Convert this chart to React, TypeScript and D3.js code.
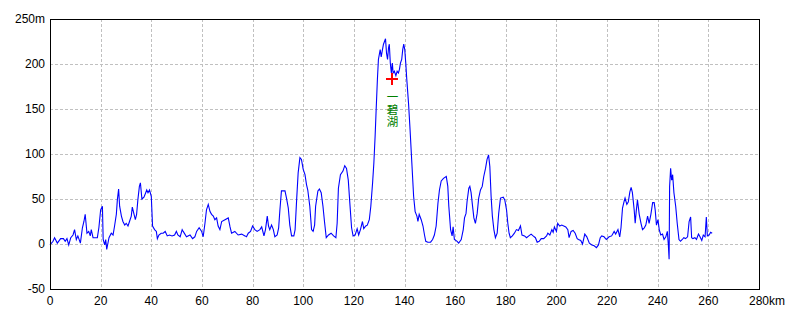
import React from "react";
import * as d3 from "d3";

const distanceKm = [
  0, 1.2, 1.8, 2.9, 4.2, 5.3, 6, 6.7, 7.4, 8.2, 9.1, 9.7, 10.4, 11, 12, 12.8, 13.4, 13.9, 14.6, 15.3,
  15.9, 16.3, 17, 17.6, 18.7, 19.3, 20, 20.7, 21, 21.6, 22, 22.4, 23.3, 24.2, 24.9, 25.5, 26.2, 26.6, 27.1, 27.5,
  28.2, 28.8, 29.5, 30.1, 30.8, 31.4, 32.1, 32.5, 33.2, 33.7, 34.2, 34.7, 35.3, 35.7, 36.3, 37.1, 37.8, 38.2, 38.7, 39.3,
  40, 40.5, 41.3, 42, 42.4, 43, 43.9, 44.7, 45.5, 46.3, 47.2, 48.2, 49.2, 49.9, 50.5, 51.4, 52.2, 52.6, 53.9, 55.3,
  56.3, 57.2, 57.9, 58.9, 59.9, 60.5, 61.2, 61.8, 62.5, 63.2, 63.8, 64.5, 65.1, 65.8, 66.4, 67.1, 67.8, 69.1, 70.4, 71.1,
  71.7, 73, 74.3, 75.7, 77, 77.6, 78.3, 79.2, 80, 80.9, 81.8, 82.9, 83.6, 84.5, 85.1, 85.8, 86.3, 86.8, 87.5, 88.2,
  88.8, 89.7, 90.3, 90.8, 91.4, 92.8, 93.4, 94.1, 94.7, 95.4, 96.3, 96.8, 97.4, 98, 98.7, 99.3, 100, 100.7, 101.3, 101.8,
  102.6, 103.3, 103.9, 104.5, 104.9, 105.8, 106.4, 107.1, 107.8, 108.4, 109.1, 110, 111, 112, 112.9, 113.4, 113.9, 114.7, 115.7, 116.4,
  117.1, 117.8, 118.4, 119.1, 119.7, 120.5, 121.3, 121.9, 122.6, 123.4, 123.9, 124.7, 125.3, 126.1, 126.7, 127.4, 127.9, 128.4, 128.8, 129.3,
  129.7, 130.4, 130.8, 131.3, 131.7, 132.1, 132.5, 132.9, 133.3, 133.7, 134, 134.4, 134.8, 135.2, 135.5, 136, 136.6, 137.1, 137.6, 138,
  138.4, 138.9, 139.3, 139.7, 140.1, 140.5, 140.9, 141.6, 142.2, 142.9, 143.6, 144.2, 144.9, 145.3, 145.8, 146.6, 147.3, 147.9, 148.4, 149.2,
  150.3, 151.1, 151.8, 152.5, 153.2, 153.8, 154.5, 155.4, 156.5, 157.1, 157.5, 158.2, 158.8, 159.2, 159.7, 160.8, 161.4, 162.4, 163.2, 163.7,
  164.3, 164.7, 165.4, 165.8, 166.3, 166.8, 167.4, 168, 168.7, 169.3, 170, 170.7, 171.3, 172, 172.6, 173.2, 173.7, 174.2, 174.7, 175.3,
  175.9, 176.6, 177.2, 177.9, 179, 179.6, 180.3, 180.8, 181.3, 181.8, 182.6, 183.4, 184.2, 185, 185.8, 186.4, 187.4, 188.2, 189.1, 190,
  190.8, 191.7, 192.4, 193.2, 194, 195, 196.1, 196.6, 197.4, 198.2, 198.7, 199.2, 200, 200.5, 201.3, 202.1, 202.9, 203.7, 204.5, 205,
  205.8, 206.6, 207.4, 208.2, 208.7, 209.6, 210.3, 211.2, 212, 213, 214, 214.9, 215.8, 216.6, 217.3, 217.9, 218.8, 219.7, 220.8, 221.8,
  222.8, 223.4, 224.3, 225, 225.5, 226.1, 226.7, 227.1, 227.8, 228.4, 229, 229.5, 230, 230.7, 231.1, 231.5, 232, 232.7, 233.4, 234,
  234.7, 235.3, 236, 236.6, 237.3, 238, 238.6, 239, 239.5, 240.1, 240.6, 241.2, 241.9, 242.5, 243.2, 243.8, 244.2, 244.5, 244.7, 245.1,
  245.5, 245.9, 246.4, 247.1, 247.7, 248.4, 249, 249.7, 250.3, 251, 251.8, 252.4, 253, 253.4, 253.9, 254.7, 255.3, 256.1, 256.7, 257.4,
  258, 258.7, 259.2, 259.6, 260.3, 260.9, 261.5,
];

const elevationM = [
  -1, 3, 7, 1, 6, 6, 3, 6, -1, 7, 10, 16, 5, 9, 1, 18, 25, 33, 12, 14,
  9, 16, 7, 7, 7, 18, 38, 42, 5, -1, 5, -6, 7, 12, 10, 20, 33, 49, 61, 42,
  31, 25, 21, 23, 20, 25, 31, 41, 33, 27, 33, 49, 64, 68, 50, 52, 57, 60, 57, 60,
  53, 20, 16, 14, 6, 10, 12, 12, 14, 9, 10, 9, 10, 14, 10, 8, 16, 14, 8, 10,
  6, 8, 14, 18, 14, 8, 23, 38, 44, 36, 33, 31, 27, 29, 20, 16, 25, 27, 29, 19,
  12, 14, 10, 11, 9, 8, 12, 14, 20, 16, 14, 16, 19, 9, 16, 31, 20, 16, 21, 16,
  8, 10, 18, 38, 59, 59, 51, 40, 21, 9, 9, 16, 49, 79, 96, 94, 83, 77, 66, 60,
  42, 16, 14, 21, 42, 59, 61, 57, 42, 25, 7, 10, 12, 9, 7, 23, 62, 77, 81, 87,
  84, 71, 46, 18, 9, 10, 17, 10, 16, 25, 17, 20, 21, 27, 42, 68, 90, 120, 149, 183,
  205, 216, 208, 216, 222, 225, 228, 212, 205, 218, 222, 201, 190, 201, 190, 192, 187, 192, 190, 194,
  201, 205, 216, 222, 216, 201, 183, 156, 127, 90, 53, 36, 31, 25, 33, 27, 20, 10, 3, 2,
  2, 5, 10, 20, 45, 60, 70, 73, 75, 64, 42, 16, 9, 19, 5, 3, 1, 5, 16, 29,
  34, 47, 62, 64, 57, 44, 29, 23, 34, 51, 60, 64, 75, 84, 94, 99, 86, 53, 31, 16,
  7, 12, 34, 51, 52, 49, 38, 23, 12, 7, 9, 12, 16, 15, 20, 10, 9, 7, 9, 11,
  9, 7, 2, 3, 6, 6, 9, 12, 10, 16, 13, 19, 14, 23, 20, 21, 20, 19, 16, 7,
  14, 15, 12, 6, 5, 4, 0, 11, 8, 1, -1, -2, -4, -1, 7, 9, 8, 5, 8, 9,
  14, 11, 16, 8, 18, 40, 47, 51, 44, 47, 58, 63, 57, 38, 23, 36, 49, 33, 23, 16,
  18, 21, 31, 23, 33, 46, 46, 38, 21, 27, 16, 10, 11, 5, 8, 14, -1, -17, 64, 84,
  71, 77, 57, 42, 23, 5, 3, 5, 7, 6, 8, 25, 30, 7, 6, 7, 5, 11, 8, 4,
  10, 8, 30, 9, 10, 13, 12,
];

const xTicks = [0, 20, 40, 60, 80, 100, 120, 140, 160, 180, 200, 220, 240, 260, 280];
const yTicks = [-50, 0, 50, 100, 150, 200, 250];

const landmarkKm = [134.8];
const landmarkM = [183];
const landmarkLabels = ["一碧湖"];

const W = 800;
const H = 320;
const LEFT = 50;
const RIGHT = 759;
const TOP = 19;
const BOTTOM = 289;
const FONT = "'Liberation Sans', Arial, sans-serif";

export default function App() {
  const x = d3.scaleLinear().domain([0, 280]).range([LEFT, RIGHT]);
  const y = d3.scaleLinear().domain([-50, 250]).range([BOTTOM, TOP]);
  const pts: [number, number][] = distanceKm.map((d, i) => [d, elevationM[i]]);
  const line = d3
    .line<[number, number]>()
    .x((d) => x(d[0]))
    .y((d) => y(d[1]));

  return (
    <svg
      width={W}
      height={H}
      style={{ position: "absolute", left: 0, top: 0, background: "#fff" }}
      fontFamily={FONT}
    >
      <rect x={0} y={0} width={W} height={H} fill="#fff" />
      {/* grid */}
      <g stroke="#c0c0c0" strokeDasharray="3,2" shapeRendering="crispEdges" strokeWidth={1}>
        {xTicks
          .filter((t) => t > 0 && t < 280)
          .map((t) => (
            <line key={"gx" + t} x1={Math.round(x(t)) + 0.5} x2={Math.round(x(t)) + 0.5} y1={TOP} y2={BOTTOM} />
          ))}
        {yTicks
          .filter((t) => t > -50 && t < 250)
          .map((t) => (
            <line key={"gy" + t} x1={LEFT} x2={RIGHT} y1={Math.round(y(t)) + 0.5} y2={Math.round(y(t)) + 0.5} />
          ))}
      </g>
      {/* profile */}
      <path d={line(pts) || ""} fill="none" stroke="#0000ff" strokeWidth={1.1} strokeLinejoin="miter" />
      {/* border */}
      <rect
        x={LEFT + 0.5}
        y={TOP + 0.5}
        width={RIGHT - LEFT}
        height={BOTTOM - TOP}
        fill="none"
        stroke="#000"
        strokeWidth={1}
        shapeRendering="crispEdges"
      />
      {/* y labels */}
      <g fontSize={12} fill="#000" textAnchor="end">
        {yTicks.map((t) => (
          <text key={"yl" + t} x={45} y={y(t)} dominantBaseline="central">
            {t === 250 ? `${t}m` : `${t}`}
          </text>
        ))}
      </g>
      {/* x labels */}
      <g fontSize={12} fill="#000">
        {xTicks.map((t) =>
          t === 280 ? (
            <text key={"xl" + t} x={x(t) - 10} y={305} textAnchor="start">
              {`${t}km`}
            </text>
          ) : (
            <text key={"xl" + t} x={x(t)} y={305} textAnchor="middle">
              {`${t}`}
            </text>
          )
        )}
      </g>
      {/* landmark */}
      {landmarkKm.map((k, i) => {
        const cx = Math.round(x(k)) + 0.5;
        const cy = Math.round(y(landmarkM[i]));
        return (
          <g key={"lm" + i}>
            <g stroke="#ff0000" strokeWidth={2} shapeRendering="crispEdges">
              <line x1={cx - 6} x2={cx + 6} y1={cy} y2={cy} />
              <line x1={cx} x2={cx} y1={cy - 6} y2={cy + 6} />
            </g>
            <text
              x={cx + 1}
              y={cy + 12}
              fill="#008000"
              fontSize={11.5}
              letterSpacing={1}
              textAnchor="start"
              writingMode="vertical-rl"
              style={{ writingMode: "vertical-rl", textOrientation: "upright" }}
              fontFamily="'Noto Sans CJK JP', sans-serif"
            >
              {landmarkLabels[i]}
            </text>
          </g>
        );
      })}
    </svg>
  );
}
